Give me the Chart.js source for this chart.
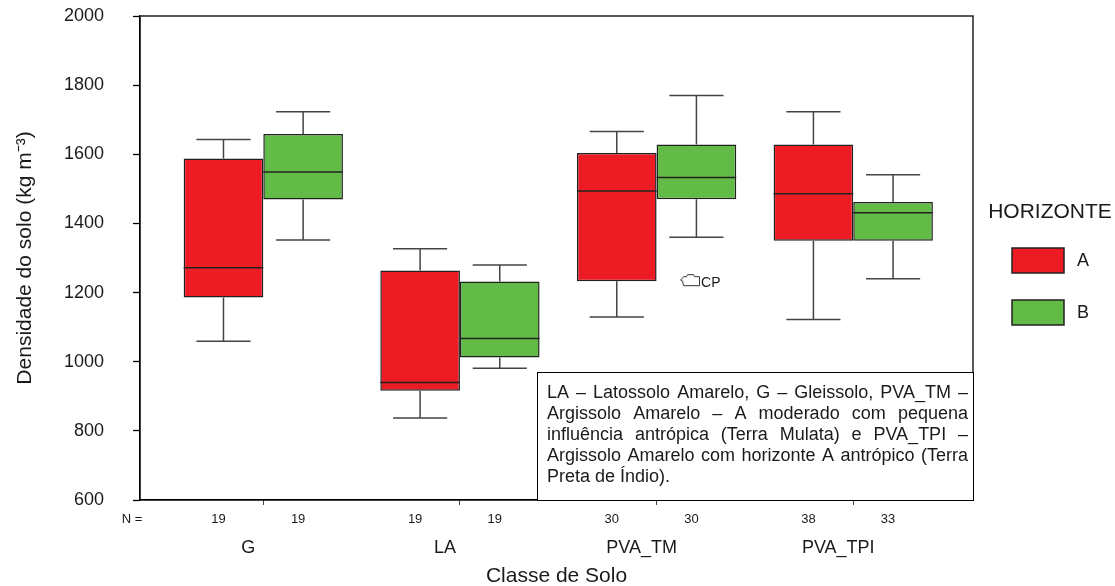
<!DOCTYPE html>
<html>
<head>
<meta charset="utf-8">
<title>Densidade do solo por classe de solo</title>
<script src="https://cdn.jsdelivr.net/npm/chart.js@4.4.1/dist/chart.umd.min.js"></script>
<style>
    html, body { margin: 0; padding: 0; background: #fff; }
</style>
</head>
<body>
<canvas id="soloChart" width="1115" height="586"></canvas>
<script>
// categorias e eixos
const categorias = ['G', 'LA', 'PVA_TM', 'PVA_TPI'];
const yTicks = [600, 800, 1000, 1200, 1400, 1600, 1800, 2000];

// Horizonte A
const minA = [1059, 837, 1129, 1122];
const q1A  = [1186, 916, 1233, 1350];
const medA = [1272, 940, 1494, 1486];
const q3A  = [1588, 1264, 1604, 1628];
const maxA = [1643, 1327, 1666, 1723];
const nA   = [19, 19, 30, 38];

// Horizonte B
const minB = [1352, 981, 1360, 1240];
const q1B  = [1469, 1012, 1470, 1350];
const medB = [1549, 1067, 1533, 1431];
const q3B  = [1659, 1232, 1628, 1462];
const maxB = [1723, 1280, 1770, 1541];
const nB   = [19, 19, 30, 33];

// valor atípico
const outlierX = [3.17];
const outlierY = [1236];
const outlierLabel = ['CP'];

const notaLinhas = [
    'LA – Latossolo Amarelo, G – Gleissolo, PVA_TM –',
    'Argissolo Amarelo – A moderado com pequena',
    'influência antrópica (Terra Mulata) e PVA_TPI –',
    'Argissolo Amarelo com horizonte A antrópico (Terra',
    'Preta de Índio).'
];

const FONT = '"Liberation Sans", Arial, sans-serif';
const INK = '#1a1a1a';

Chart.defaults.font.family = FONT;
Chart.defaults.color = INK;

function boxData(q1, q3) {
    return categorias.map((c, i) => ({ x: i + 1, y: [q1[i], q3[i]] }));
}

// marcador do valor atípico
function makeMarker() {
    const c = document.createElement('canvas');
    c.width = 22; c.height = 14;
    const g = c.getContext('2d');
    g.beginPath();
    g.moveTo(1.5, 7);
    g.lineTo(4.5, 3.5);
    g.lineTo(7.5, 3.5);
    g.lineTo(8.5, 1.5);
    g.lineTo(14.5, 1.5);
    g.lineTo(15.5, 3.5);
    g.lineTo(20.5, 3.5);
    g.lineTo(20.5, 12.5);
    g.lineTo(4.5, 12.5);
    g.lineTo(3.5, 8);
    g.closePath();
    g.fillStyle = '#fff';
    g.fill();
    g.strokeStyle = '#333';
    g.lineWidth = 1;
    g.stroke();
    return c;
}

const boxWhiskers = {
    id: 'boxWhiskers',
    afterDatasetsDraw(chart) {
        const ctx = chart.ctx;
        const y = chart.scales.y;
        ctx.save();
        chart.data.datasets.forEach((ds, d) => {
            if (!ds.median) return;
            const meta = chart.getDatasetMeta(d);
            meta.data.forEach((bar, i) => {
                const half = bar.width / 2;
                const cap = bar.width * 0.34;
                const top = Math.min(bar.y, bar.base);
                const bottom = Math.max(bar.y, bar.base);
                const hi = y.getPixelForValue(ds.whiskerMax[i]);
                const lo = y.getPixelForValue(ds.whiskerMin[i]);
                const med = y.getPixelForValue(ds.median[i]);

                ctx.strokeStyle = '#444';
                ctx.lineWidth = 1.5;
                ctx.beginPath();
                ctx.moveTo(bar.x, top); ctx.lineTo(bar.x, hi);
                ctx.moveTo(bar.x - cap, hi); ctx.lineTo(bar.x + cap, hi);
                ctx.moveTo(bar.x, bottom); ctx.lineTo(bar.x, lo);
                ctx.moveTo(bar.x - cap, lo); ctx.lineTo(bar.x + cap, lo);
                ctx.stroke();

                ctx.strokeStyle = '#222';
                ctx.beginPath();
                ctx.moveTo(bar.x - half, med); ctx.lineTo(bar.x + half, med);
                ctx.stroke();
            });
        });
        ctx.restore();
    }
};

const extras = {
    id: 'extras',
    afterDraw(chart) {
        const { ctx, chartArea } = chart;
        ctx.save();

        // moldura
        ctx.strokeStyle = '#000';
        ctx.lineWidth = 1.3;
        ctx.strokeRect(chartArea.left, chartArea.top, chartArea.right - chartArea.left, chartArea.bottom - chartArea.top);

        // N =
        ctx.fillStyle = INK;
        ctx.font = '13px ' + FONT;
        ctx.textAlign = 'center';
        ctx.textBaseline = 'middle';
        const nY = chartArea.bottom + 19;
        ctx.fillText('N =', chartArea.left - 8, nY);
        chart.data.datasets.forEach((ds, d) => {
            if (!ds.counts) return;
            chart.getDatasetMeta(d).data.forEach((bar, i) => {
                ctx.fillText(String(ds.counts[i]), bar.x - 5, nY);
            });
        });

        // rótulo do valor atípico
        chart.data.datasets.forEach((ds, d) => {
            if (!ds.pointNames) return;
            ctx.font = '14px ' + FONT;
            ctx.textAlign = 'left';
            chart.getDatasetMeta(d).data.forEach((pt, i) => {
                ctx.fillText(ds.pointNames[i], pt.x + 11, pt.y + 3);
            });
        });

        // legenda
        const lx = chartArea.right + 39;
        ctx.font = '21px ' + FONT;
        ctx.textAlign = 'center';
        ctx.fillText('HORIZONTE', chartArea.right + 77, chartArea.top + 196);
        let ly = chartArea.top + 232;
        ctx.font = '18px ' + FONT;
        ctx.textAlign = 'left';
        chart.data.datasets.forEach(ds => {
            if (!ds.median) return;
            ctx.fillStyle = ds.backgroundColor;
            ctx.fillRect(lx, ly, 52, 25);
            ctx.strokeStyle = '#222';
            ctx.lineWidth = 1.5;
            ctx.strokeRect(lx, ly, 52, 25);
            ctx.fillStyle = INK;
            ctx.fillText(ds.label, lx + 65, ly + 13);
            ly += 52;
        });

        // nota
        const bx = chartArea.right - 436;
        const by = chartArea.bottom - 128;
        ctx.strokeStyle = '#000';
        ctx.lineWidth = 1;
        ctx.fillStyle = '#fff';
        ctx.fillRect(bx, by, chartArea.right - bx, chartArea.bottom - by);
        ctx.strokeRect(bx + 0.5, by + 0.5, chartArea.right - bx, chartArea.bottom - by);
        ctx.fillStyle = INK;
        ctx.font = '18px ' + FONT;
        const tx = bx + 10;
        const tw = chartArea.right - 5 - tx;
        notaLinhas.forEach((linha, k) => {
            const ty = by + 21 + k * 21;
            if (k === notaLinhas.length - 1) {
                ctx.fillText(linha, tx, ty);
                return;
            }
            const words = linha.split(' ');
            const wordsW = words.reduce((s, w) => s + ctx.measureText(w).width, 0);
            const gap = (tw - wordsW) / (words.length - 1);
            let x = tx;
            words.forEach(w => {
                ctx.fillText(w, x, ty);
                x += ctx.measureText(w).width + gap;
            });
        });

        ctx.restore();
    }
};

new Chart(document.getElementById('soloChart'), {
    type: 'bar',
    data: {
        datasets: [
            {
                label: 'A',
                data: boxData(q1A, q3A),
                median: medA, whiskerMin: minA, whiskerMax: maxA, counts: nA,
                backgroundColor: '#ED1C24',
                borderColor: '#222',
                borderWidth: 1.5,
                borderSkipped: false,
                categoryPercentage: 0.81,
                barPercentage: 1.0
            },
            {
                label: 'B',
                data: boxData(q1B, q3B),
                median: medB, whiskerMin: minB, whiskerMax: maxB, counts: nB,
                backgroundColor: '#62BB46',
                borderColor: '#222',
                borderWidth: 1.5,
                borderSkipped: false,
                categoryPercentage: 0.81,
                barPercentage: 1.0
            },
            {
                type: 'scatter',
                label: 'atípico',
                data: outlierX.map((x, i) => ({ x: x, y: outlierY[i] })),
                pointNames: outlierLabel,
                pointStyle: makeMarker(),
                showLine: false
            }
        ]
    },
    options: {
        responsive: false,
        animation: false,
        layout: { padding: { top: 16, right: 142, left: 0, bottom: 0 } },
        plugins: {
            legend: { display: false },
            tooltip: { enabled: false }
        },
        scales: {
            x: {
                type: 'linear',
                min: 0.373,
                max: 4.609,
                offset: false,
                afterBuildTicks: (s) => { s.ticks = categorias.map((c, i) => ({ value: i + 1 })); },
                afterFit: (s) => { s.height = 86; },
                ticks: {
                    callback: (v) => categorias[v - 1],
                    font: { size: 18 },
                    padding: 32,
                    labelOffset: -15,
                    autoSkip: false,
                    maxRotation: 0,
                    color: INK
                },
                grid: { drawOnChartArea: false, offset: false, tickLength: 5, tickColor: '#444' },
                border: { display: true, color: '#000', width: 1.3 },
                title: {
                    display: true,
                    text: 'Classe de Solo',
                    font: { size: 21 },
                    padding: { top: 0, bottom: -3 },
                    color: INK
                }
            },
            y: {
                min: 600,
                max: 2000,
                afterBuildTicks: (s) => { s.ticks = yTicks.map(v => ({ value: v })); },
                afterFit: (s) => {
                    s.width = 140;
                    s.paddingTop = 11;
                    s.paddingBottom = 11;
                },
                ticks: {
                    callback: (v) => String(v),
                    font: { size: 18 },
                    padding: 29,
                    color: INK
                },
                grid: { drawOnChartArea: false, tickLength: 7, tickColor: '#000', tickWidth: 1.3 },
                border: { display: true, color: '#000', width: 1.3 },
                title: {
                    display: true,
                    text: 'Densidade do solo (kg m⁻³)',
                    font: { size: 21 },
                    padding: { top: 13, bottom: 0 },
                    color: INK
                }
            }
        }
    },
    plugins: [boxWhiskers, extras]
});
</script>
</body>
</html>
